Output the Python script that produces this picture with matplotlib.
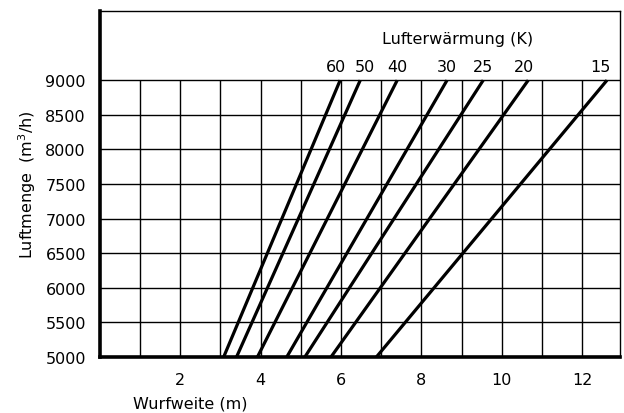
import matplotlib
matplotlib.use("Agg")
import matplotlib.pyplot as plt

# Lufterwärmung (K) and the Wurfweite at 5000 / 9000 m3/h
heating = ["60", "50", "40", "30", "25", "20", "15"]
x_at_5000 = [3.08, 3.40, 3.92, 4.65, 5.10, 5.75, 6.88]
x_at_9000 = [5.98, 6.48, 7.40, 8.64, 9.54, 10.66, 12.62]
flow = [5000, 9000]

y_ticks = [5000, 5500, 6000, 6500, 7000, 7500, 8000, 8500, 9000]
x_ticks = [2, 4, 6, 8, 10, 12]
x_grid = list(range(1, 13))

# small shifts so the line labels do not collide
nudge = [-0.1, 0.12, 0, 0, 0, -0.1, -0.17]

plt.rcParams['font.family'] = ['DejaVu Sans']
fs = 11.5

fig = plt.figure(figsize=(6.24, 4.14), dpi=100)
ax = fig.add_axes([0.16, 0.135, 0.834, 0.836])

xmax = 12.95
ax.set_xlim(0, xmax)
ax.set_ylim(5000, 10000)

# grid: vertical only in the chart area, horizontal across
ax.vlines(x_grid, 5000, 9000, color='black', lw=1.0, zorder=1)
ax.hlines(y_ticks, 0, xmax, color='black', lw=1.0, zorder=1)

for lab, x0, x1, dx in zip(heating, x_at_5000, x_at_9000, nudge):
    ax.plot([x0, x1], flow, color='black', lw=2.3, solid_capstyle='butt', zorder=3)
    ax.text(x1 + dx, 9090, lab, ha='center', va='bottom', fontsize=fs)

ax.text(8.9, 9600, "Lufterwärmung (K)", ha='center', va='center', fontsize=fs)

ax.set_xticks(x_ticks)
ax.set_yticks(y_ticks)
ax.tick_params(length=0, labelsize=fs)
ax.tick_params(axis='y', pad=10)
ax.tick_params(axis='x', pad=11)

ax.spines['left'].set_linewidth(2.6)
ax.spines['bottom'].set_linewidth(2.6)
ax.spines['top'].set_linewidth(1.0)
ax.spines['right'].set_linewidth(1.0)

ax.set_ylabel("Luftmenge  (m$^3$/h)", fontsize=fs, labelpad=5)
fig.text(0.305, 0.025, "Wurfweite (m)", ha='center', va='center', fontsize=fs)

fig.savefig("out.png", dpi=100)
